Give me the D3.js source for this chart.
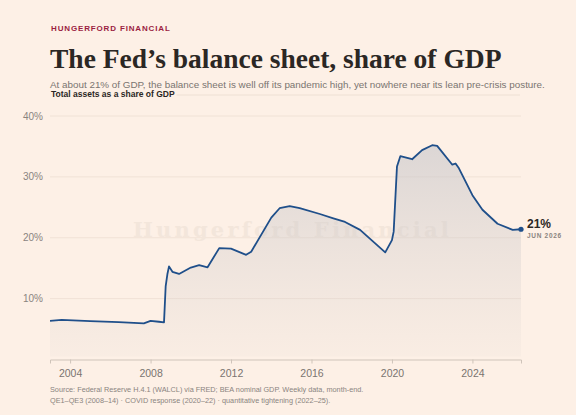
<!DOCTYPE html>
<html>
<head>
<meta charset="utf-8">
<script src="https://cdnjs.cloudflare.com/ajax/libs/d3/7.8.5/d3.min.js"></script>
<style>
  body { margin: 0; background: #fdf0e6; }
  #chart { width: 576px; height: 415px; }
</style>
</head>
<body>
<div id="chart"></div>
<script>
// data (total assets as % of GDP)
var months = ["2003-01", "2003-08", "2005-01", "2006-06", "2007-09", "2008-01", "2008-06", "2008-09",
  "2008-10", "2008-11", "2008-12", "2009-02", "2009-06", "2010-01", "2010-06", "2010-11",
  "2011-06", "2012-01", "2012-10", "2013-01", "2014-01", "2014-06", "2014-12", "2015-06",
  "2016-06", "2017-02", "2017-09", "2018-06", "2019-09", "2020-01", "2020-02", "2020-04",
  "2020-06", "2021-01", "2021-07", "2022-01", "2022-04", "2023-01", "2023-03", "2023-05",
  "2024-01", "2024-07", "2025-04", "2026-01", "2026-06"];
var share = [6.35, 6.5, 6.3, 6.15, 5.95, 6.35, 6.2, 6.1,
  12.0, 14.0, 15.3, 14.4, 14.05, 15.1, 15.5, 15.15,
  18.3, 18.2, 17.2, 17.7, 23.3, 24.85, 25.2, 24.85,
  23.9, 23.2, 22.6, 21.3, 17.6, 19.6, 21.0, 31.7,
  33.4, 32.9, 34.4, 35.2, 35.1, 32.0, 32.2, 31.4,
  27.0, 24.6, 22.3, 21.3, 21.4];
var yTicks = [10, 20, 30, 40];
var xTickYears = [2004, 2008, 2012, 2016, 2020, 2024];

var parseMonth = d3.timeParse("%Y-%m");
var data = months.map(function(m, i) {
  return { date: parseMonth(m), value: share[i] };
});

var svgWidth = 576;
var svgHeight = 415;
var margin = { top: 116, right: 55, bottom: 55.5, left: 50 };
var width = svgWidth - margin.left - margin.right;
var height = svgHeight - margin.top - margin.bottom;

var svg = d3.select("#chart")
  .append("svg")
  .attr("width", svgWidth)
  .attr("height", svgHeight);

svg.append("rect")
  .attr("width", svgWidth)
  .attr("height", svgHeight)
  .attr("fill", "#fdf0e6");

var sans = "'Liberation Sans', Arial, sans-serif";
var serif = "'Liberation Serif', Georgia, serif";

// header
svg.append("text")
  .attr("x", 51).attr("y", 30.5)
  .attr("font-family", sans).attr("font-size", 8).attr("font-weight", "bold")
  .attr("letter-spacing", 0.85)
  .attr("fill", "#9b1d42")
  .text("HUNGERFORD FINANCIAL");

svg.append("text")
  .attr("x", 50).attr("y", 68)
  .attr("font-family", serif).attr("font-size", 27.5).attr("font-weight", "bold")
  .attr("fill", "#2b2724")
  .text("The Fed\u2019s balance sheet, share of GDP");

svg.append("text")
  .attr("x", 50).attr("y", 87.5)
  .attr("font-family", sans).attr("font-size", 9.85)
  .attr("fill", "#7a7470")
  .text("At about 21% of GDP, the balance sheet is well off its pandemic high, yet nowhere near its lean pre-crisis posture.");

var subLabel = svg.append("text")
  .attr("x", 51).attr("y", 96.5)
  .attr("font-family", sans).attr("font-size", 8.5).attr("font-weight", "bold")
  .attr("fill", "#2b2724")
  .text("Total assets as a share of GDP");

var subEnd = 51 + subLabel.node().getComputedTextLength() + 2;
svg.append("line")
  .attr("x1", subEnd).attr("x2", 520)
  .attr("y1", 95).attr("y2", 95)
  .attr("stroke", "#eee0d4").attr("stroke-width", 1);

var chartGroup = svg.append("g")
  .attr("transform", `translate(${margin.left}, ${margin.top})`);

// scales
var xTimeScale = d3.scaleTime()
  .domain([parseMonth("2003-01"), parseMonth("2026-06")])
  .range([0, width]);

var yLinearScale = d3.scaleLinear()
  .domain([0, 40])
  .range([height, 0]);

// gridlines
chartGroup.selectAll(".grid")
  .data(yTicks)
  .enter()
  .append("line")
  .attr("x1", 0).attr("x2", width)
  .attr("y1", d => yLinearScale(d)).attr("y2", d => yLinearScale(d))
  .attr("stroke", "#f0e2d6").attr("stroke-width", 1);

chartGroup.selectAll(".ylab")
  .data(yTicks)
  .enter()
  .append("text")
  .attr("x", -7)
  .attr("y", d => yLinearScale(d) + 3.5)
  .attr("text-anchor", "end")
  .attr("font-family", sans).attr("font-size", 10)
  .attr("fill", "#8a847f")
  .text(d => d + "%");

// watermark
chartGroup.append("text")
  .attr("x", 83).attr("y", 121)
  .attr("font-family", "'DejaVu Serif', serif").attr("font-size", 21).attr("font-weight", "bold")
  .attr("letter-spacing", 3.2)
  .attr("fill", "#f3e6db")
  .text("Hungerford Financial");

// area gradient
var defs = svg.append("defs");
var grad = defs.append("linearGradient")
  .attr("id", "areaFill")
  .attr("gradientUnits", "userSpaceOnUse")
  .attr("x1", 0).attr("x2", 0)
  .attr("y1", yLinearScale(36)).attr("y2", height);
grad.append("stop").attr("offset", "0%").attr("stop-color", "#c4c4c9").attr("stop-opacity", 0.6);
grad.append("stop").attr("offset", "100%").attr("stop-color", "#d8d0cc").attr("stop-opacity", 0.1);

var area = d3.area()
  .x(d => xTimeScale(d.date))
  .y0(height - 3)
  .y1(d => yLinearScale(d.value));

chartGroup.append("path")
  .datum(data)
  .attr("d", area)
  .attr("fill", "url(#areaFill)");

var line = d3.line()
  .x(d => xTimeScale(d.date))
  .y(d => yLinearScale(d.value));

chartGroup.append("path")
  .datum(data)
  .attr("d", line)
  .attr("fill", "none")
  .attr("stroke", "#1f4f8a")
  .attr("stroke-width", 1.8)
  .attr("stroke-linejoin", "round");

// x axis
var bottomAxis = d3.axisBottom(xTimeScale)
  .tickValues(xTickYears.map(y => new Date(y, 0, 1)))
  .tickFormat(d3.timeFormat("%Y"))
  .tickSize(4)
  .tickPadding(6);

var xAxisG = chartGroup.append("g")
  .attr("transform", `translate(0, ${height})`)
  .call(bottomAxis);
xAxisG.select(".domain").attr("stroke", "#cfc4ba");
xAxisG.selectAll(".tick line").attr("stroke", "#cfc4ba");
xAxisG.selectAll(".tick text")
  .attr("font-family", sans).attr("font-size", 10.5)
  .attr("fill", "#7a7470");

// end point + label
var last = data[data.length - 1];
chartGroup.append("circle")
  .attr("cx", xTimeScale(last.date))
  .attr("cy", yLinearScale(last.value))
  .attr("r", 2.6)
  .attr("fill", "#1f4f8a");

chartGroup.append("text")
  .attr("x", xTimeScale(last.date) + 6)
  .attr("y", yLinearScale(last.value) - 1)
  .attr("font-family", sans).attr("font-size", 12).attr("font-weight", "bold")
  .attr("fill", "#2b2724")
  .text("21%");

chartGroup.append("text")
  .attr("x", xTimeScale(last.date) + 6)
  .attr("y", yLinearScale(last.value) + 8.5)
  .attr("font-family", sans).attr("font-size", 6.5).attr("font-weight", "bold")
  .attr("letter-spacing", 0.7)
  .attr("fill", "#8a847f")
  .text("JUN 2026");

// source
svg.append("text")
  .attr("x", 50).attr("y", 392)
  .attr("font-family", sans).attr("font-size", 7.3)
  .attr("fill", "#8a847f")
  .text("Source: Federal Reserve H.4.1 (WALCL) via FRED; BEA nominal GDP. Weekly data, month-end.");

svg.append("text")
  .attr("x", 50).attr("y", 403)
  .attr("font-family", sans).attr("font-size", 7.3)
  .attr("fill", "#8a847f")
  .text("QE1\u2013QE3 (2008\u201314) \u00b7 COVID response (2020\u201322) \u00b7 quantitative tightening (2022\u201325).");
</script>
</body>
</html>
